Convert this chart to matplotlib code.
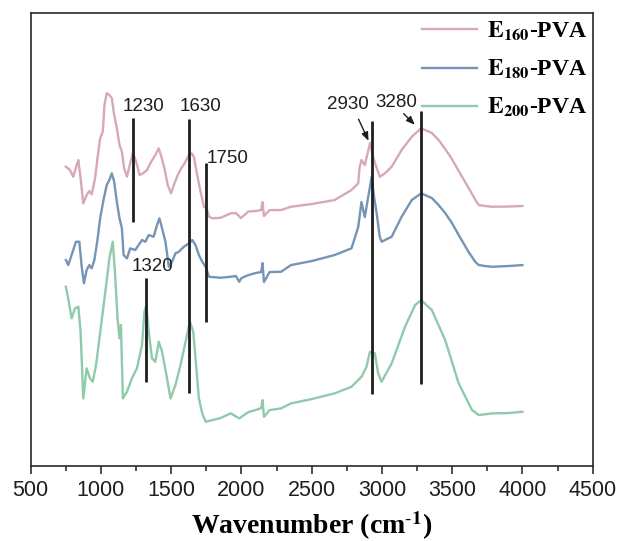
import matplotlib
matplotlib.use("Agg")
import matplotlib.pyplot as plt
import numpy as np

plt.rcParams['font.family'] = ['Liberation Sans', 'DejaVu Sans']
plt.rcParams['mathtext.fontset'] = 'stix'

# FTIR spectra (wavenumber, arbitrary offset intensity)
wn_160 = [750, 779, 803, 827, 839, 855, 874, 898, 917, 934, 958, 975, 994, 1013, 1025, 1041,
          1060, 1077, 1094, 1113, 1132, 1149, 1165, 1185, 1208, 1227, 1251, 1275, 1299, 1328,
          1351, 1387, 1411, 1430, 1452, 1475, 1499, 1523, 1547, 1571, 1595, 1626, 1645, 1661,
          1685, 1709, 1733, 1752, 1769, 1793, 1852, 1924, 1960, 1996, 2050, 2100, 2140, 2150,
          2160, 2200, 2282, 2353, 2500, 2663, 2783, 2831, 2840, 2854, 2878, 2915, 2937, 2962,
          2985, 3021, 3069, 3140, 3212, 3279, 3355, 3403, 3450, 3498, 3546, 3617, 3665, 3689,
          3737, 3784, 3900, 4000]
ab_160 = [301.3, 298, 291.3, 303, 308, 289.7, 264.7, 273, 277, 273.7, 289.7, 309.7, 329.7, 336.3, 363, 374.7,
          373, 369.7, 353, 339.7, 323, 316.3, 299.7, 291.3, 304.7, 314.7, 306.3, 293, 294.7, 298,
          304.7, 313, 319.7, 311.3, 299.7, 283, 274.7, 284.7, 293, 299.7, 304.7, 313, 314.7, 311.3,
          293, 276.3, 261.3, 259.7, 251.3, 249.7, 250.3, 254.7, 255, 250, 256.5, 257, 258, 266,
          252, 258, 258, 261.3, 264, 268, 278, 284.7, 300, 308, 303, 325, 311, 300,
          291.3, 294.7, 301.3, 318, 331.3, 339.7, 335, 328, 319, 309, 297, 280, 268, 263,
          262, 261.3, 261.5, 262]

wn_180 = [750, 767, 791, 822, 846, 863, 879, 898, 917, 934, 953, 975, 994, 1018, 1041, 1060,
          1077, 1094, 1113, 1132, 1149, 1161, 1185, 1208, 1244, 1268, 1292, 1316, 1340, 1375,
          1399, 1416, 1435, 1459, 1483, 1506, 1530, 1554, 1590, 1626, 1650, 1673, 1697, 1721,
          1745, 1769, 1852, 1924, 1960, 1984, 2000, 2050, 2100, 2140, 2150, 2160, 2200, 2282,
          2353, 2500, 2663, 2783, 2831, 2854, 2878, 2926, 2945, 2962, 2983, 2997, 3069, 3140,
          3212, 3279, 3355, 3403, 3450, 3498, 3546, 3617, 3665, 3689, 3737, 3784, 3900, 4000]
ab_180 = [208, 203, 213, 226.3, 226.3, 201.3, 184.7, 198, 203, 199.7, 208, 228, 249.7, 268, 283, 288,
          294.7, 286.3, 266.3, 249.7, 239.7, 213, 209.7, 219.7, 218, 223, 228, 226.3, 233, 231.3,
          243, 249.7, 239.7, 226.3, 201.3, 206.3, 214.7, 216.3, 221.3, 224.7, 228, 223, 213, 206.3,
          201.3, 191.3, 190.3, 191.3, 192, 186.3, 190, 193, 195, 196, 205, 186, 196, 196.3,
          203, 207, 213, 219.7, 241, 266, 251, 291, 270, 255, 232, 226.3, 231.3, 251.3,
          268, 274.7, 270, 263, 255, 245, 233, 216, 206, 203, 202, 201.3, 202, 203]

wn_200 = [750, 767, 791, 815, 839, 855, 874, 898, 922, 941, 965, 989, 1013, 1037, 1060, 1084,
          1101, 1118, 1132, 1142, 1156, 1185, 1220, 1256, 1292, 1309, 1323, 1340, 1363, 1387,
          1411, 1435, 1466, 1495, 1530, 1566, 1602, 1633, 1657, 1681, 1697, 1721, 1745, 1850,
          1924, 1984, 2050, 2100, 2140, 2150, 2160, 2200, 2282, 2353, 2500, 2663, 2783, 2854,
          2890, 2914, 2949, 2973, 2997, 3069, 3164, 3236, 3279, 3355, 3450, 3546, 3641, 3689,
          3784, 3900, 4000]
ab_200 = [181.3, 169.7, 149.7, 159.7, 161.3, 136.3, 69.7, 99.7, 89.7, 86.3, 103, 129.7, 156.3, 183, 209.7, 226.3,
          193, 149.7, 129.7, 143, 69.7, 76.3, 89.7, 99.7, 123, 156.3, 163, 136.3, 109.7, 106.3,
          126.3, 116.3, 93, 69.7, 83, 103, 126.3, 146.3, 136.3, 96.3, 69.7, 54.7, 46.3, 50,
          54.7, 49.7, 56, 58, 60, 68, 51.3, 58, 59.7, 64.7, 69, 74.7, 81.3, 91.3,
          101.3, 116.3, 114.7, 94.7, 86.3, 104.7, 141.3, 163, 168, 158, 128, 84.7, 58, 53,
          54.7, 55, 56.3]

labels = [r'$\mathbf{E_{160}}$-PVA', r'$\mathbf{E_{180}}$-PVA', r'$\mathbf{E_{200}}$-PVA']
colors = ['#d7a9b8', '#7495b6', '#8fcaab']

# marked bands: position, bottom and top of the marker line
peaks = [1230, 1630, 1750, 1320, 2930, 3280]
peak_lo = [246.3, 75.3, 146.3, 85.7, 73.7, 83.7]
peak_hi = [350.3, 348.7, 304.7, 189.7, 347, 357]

fig = plt.figure(figsize=(6.18, 5.41), dpi=100)
ax = fig.add_axes([0.0497, 0.139, 0.9094, 0.837])

for wn, ab, lab, c in zip([wn_160, wn_180, wn_200], [ab_160, ab_180, ab_200], labels, colors):
    ax.plot(wn, ab, color=c, lw=1.7, label=lab)

ax.vlines(peaks, peak_lo, peak_hi, color='#1e1e1e', lw=2.0)

# band labels
txt = dict(fontsize=13.5, ha='center', va='center', color='#1e1e1e')
ax.text(1301, 362, '1230', **txt)
ax.text(1709, 362, '1630', **txt)
ax.text(1900, 309.7, '1750', **txt)
ax.text(1364, 201.3, '1320', **txt)
ax.text(2759, 364, '2930', **txt)
ax.text(3105, 365.3, '3280', **txt)
arr = dict(arrowstyle='-|>,head_length=0.5,head_width=0.2', color='#1e1e1e', lw=1.0)
ax.annotate('', xy=(2913, 324.7), xytext=(2825, 351.3), arrowprops=arr)
ax.annotate('', xy=(3248, 341.3), xytext=(3140, 356.3), arrowprops=arr)

ax.set_xlim(500, 4500)
ax.set_ylim(2.3, 455)
ax.set_xticks(np.arange(500, 4501, 500))
ax.set_xticks(np.arange(750, 4500, 500), minor=True)
ax.set_yticks([])
ax.tick_params(axis='x', which='major', direction='out', length=6, width=1.1,
               labelsize=15.5, pad=4, colors='#1e1e1e')
ax.tick_params(axis='x', which='minor', direction='out', length=3.5, width=1.1, colors='#1e1e1e')
for s in ax.spines.values():
    s.set_linewidth(1.2)
    s.set_color('#2a2a2a')

ax.set_xlabel(r'Wavenumber (cm$^{\text{-}\mathbf{1}}$)', family='Liberation Serif',
              fontweight='bold', fontsize=20, labelpad=6)

leg = ax.legend(loc='upper right', bbox_to_anchor=(1.012, 1.012), frameon=False,
                handlelength=2.3, handletextpad=0.45, labelspacing=0.64,
                borderaxespad=0.1, prop={'family': 'Liberation Serif', 'weight': 'bold', 'size': 17})

fig.savefig('out.png', dpi=100)
